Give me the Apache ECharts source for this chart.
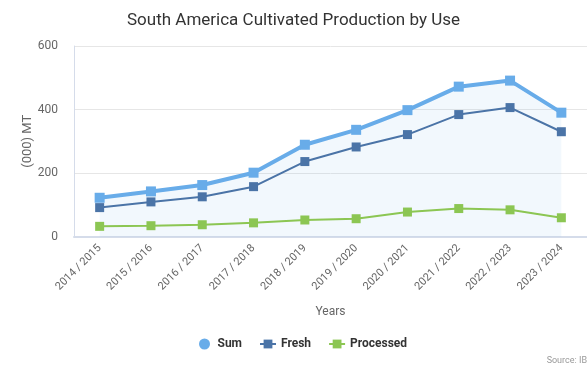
<!DOCTYPE html>
<html><head><meta charset="utf-8">
<script src="https://cdn.jsdelivr.net/npm/echarts@6/dist/echarts.min.js"></script>
<style>html,body{margin:0;padding:0;background:#fff}#c{width:587px;height:368px}</style>
</head><body><div id="c"></div>
<script>
const categories = ['2014 / 2015','2015 / 2016','2016 / 2017','2017 / 2018','2018 / 2019','2019 / 2020','2020 / 2021','2021 / 2022','2022 / 2023','2023 / 2024'];
const sumValues = [122, 142, 162, 201, 289, 336, 398, 472, 491, 390];
const freshValues = [91, 109, 125, 157, 236, 282, 321, 384, 406, 330];
const processedValues = [32, 34, 37, 43, 52, 56, 77, 88, 84, 59];
const yTicks = [0, 200, 400, 600];

const chart = echarts.init(document.getElementById('c'), null, {renderer:'canvas'});
const font = 'Roboto, "Noto Sans", sans-serif';
chart.setOption({
  animation:false,
  textStyle:{fontFamily:font},
  title:{text:'South America Cultivated Production by Use', left:'center', top:7,
    textStyle:{fontSize:17, fontWeight:'normal', color:'#333', fontFamily:font}},
  graphic:[{type:'text', right:0, top:356, style:{text:'Source: IB', fill:'#999', fontSize:9, fontFamily:font}}],
  legend:{bottom:13, left:194, itemGap:17, itemWidth:16, itemHeight:11,
    textStyle:{fontSize:12, fontWeight:'bold', color:'#333', fontFamily:font},
    data:[{name:'Sum', icon:'circle'}, {name:'Fresh'}, {name:'Processed'}]},
  grid:{left:74, right:-7, top:46, bottom:131.5, containLabel:false},
  xAxis:{type:'category', data:categories, boundaryGap:true,
    name:'Years', nameLocation:'middle', nameGap:69, nameMoveOverlap:false,
    nameTextStyle:{fontSize:12, color:'#666'},
    axisLine:{lineStyle:{color:'#d5dcea', width:2}},
    axisTick:{show:false},
    axisLabel:{rotate:45, fontSize:11, color:'#666', margin:10, interval:0}},
  yAxis:{type:'value', min:yTicks[0], max:yTicks[yTicks.length-1], interval:200,
    name:'(000) MT', nameLocation:'middle', nameGap:40, nameRotate:90, nameMoveOverlap:false,
    nameTextStyle:{fontSize:13, color:'#666'},
    axisLine:{show:true, lineStyle:{color:'#d5dcea', width:1}},
    axisTick:{show:false},
    axisLabel:{fontSize:12, color:'#666', margin:16},
    splitLine:{lineStyle:{color:'#e6e6e6'}}},
  series:[
    {name:'Sum', type:'line', data:sumValues, symbol:'rect', symbolSize:10,
      lineStyle:{width:4, color:'#68ace9'}, itemStyle:{color:'#68ace9'},
      areaStyle:{color:'rgba(104,172,233,0.12)'}, z:3},
    {name:'Fresh', type:'line', data:freshValues, symbol:'rect', symbolSize:9,
      lineStyle:{width:2, color:'#4b74a7'}, itemStyle:{color:'#4b74a7'}, z:4},
    {name:'Processed', type:'line', data:processedValues, symbol:'rect', symbolSize:9,
      lineStyle:{width:2, color:'#8cc653'}, itemStyle:{color:'#8cc653'}, z:4}
  ]
});
</script></body></html>
